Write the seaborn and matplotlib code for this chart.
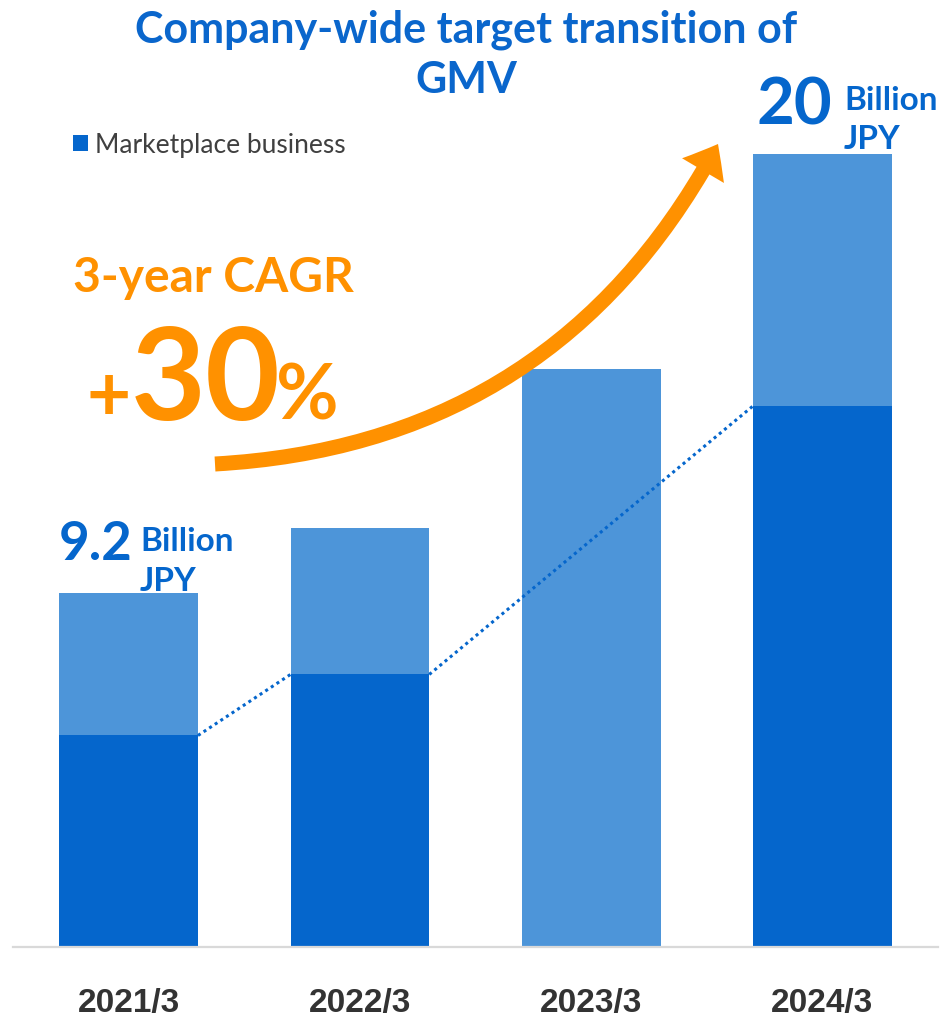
import matplotlib
matplotlib.use("Agg")
import matplotlib.pyplot as plt
from matplotlib.patches import FancyArrowPatch
import numpy as np
import pandas as pd
import seaborn as sns

# GMV targets (billion JPY)
years = ["2021/3", "2022/3", "2023/3", "2024/3"]
total_gmv = [9.2, 10.8, 14.7, 20.0]
marketplace_gmv = [5.7, 7.2, np.nan, 13.8]
legend_label = "Marketplace business"
title_lines = ["Company-wide target transition of", "GMV"]
cagr_caption = "3-year CAGR"
cagr_value = 30

DARK = "#0566CC"
LIGHT = "#4D95D9"
ORANGE = "#FF9100"
TITLE_BLUE = "#0A66CC"
GREY_TEXT = "#333333"

sns.set_theme(style="white")
plt.rcParams["font.family"] = ["Lato", "DejaVu Sans"]

W, H = 944, 1020
fig = plt.figure(figsize=(W / 100, H / 100), dpi=100)
fig.patch.set_facecolor("white")


def fx(px):
    return px / W


def fy(py):
    return 1 - py / H


ax = fig.add_axes([fx(13), fy(948), 925 / W, 888 / H])

df = pd.DataFrame({"year": years, "total": total_gmv, "market": marketplace_gmv})

sns.barplot(data=df, x="year", y="total", order=years, color=LIGHT,
            saturation=1, width=0.6, ax=ax, zorder=2, linewidth=0)
sns.barplot(data=df.dropna(subset=["market"]), x="year", y="market", order=years,
            color=DARK, saturation=1, width=0.6, ax=ax, zorder=3, linewidth=0,
            label=legend_label)

# dotted connector between marketplace segment tops
half = 0.3
idx = [i for i, v in enumerate(marketplace_gmv) if not np.isnan(v)]
for a, b in zip(idx[:-1], idx[1:]):
    ax.plot([a + half, b - half], [marketplace_gmv[a], marketplace_gmv[b]],
            color=DARK, lw=2.2, linestyle=(0, (1, 1.2)), zorder=4,
            solid_capstyle="butt", dash_capstyle="butt")

ax.set_xlim(-0.5, 3.5)
ax.set_ylim(0.5, 22.33)
ax.set_xlabel("")
ax.set_ylabel("")
ax.set_yticks([])
for side in ["top", "right", "left"]:
    ax.spines[side].set_visible(False)
ax.spines["bottom"].set_color("#D9D9D9")
ax.spines["bottom"].set_linewidth(1.6)
ax.spines["bottom"].set_zorder(5)
ax.tick_params(axis="x", length=0, pad=29)
for lab in ax.get_xticklabels():
    lab.set_family(["Liberation Sans", "DejaVu Sans"])
    lab.set_fontweight("bold")
    lab.set_fontsize(24)
    lab.set_color(GREY_TEXT)
ax.set_facecolor("white")

# value labels on first and last bars
for i, (big, yoff, xoff_big, xoff_unit, top_off) in {
    0: (38, 24.5, 3.0, 8.3, 48),
    3: (47, 21.6, 7.0, 15.5, 49.7),
}.items():
    ax.annotate(f"{total_gmv[i]:g}", xy=(i, total_gmv[i]), xytext=(xoff_big, yoff),
                textcoords="offset points", ha="right", va="baseline",
                fontsize=big, fontweight="bold", color=DARK, zorder=6)
    ax.annotate("Billion\nJPY", xy=(i, total_gmv[i]), xytext=(xoff_unit, top_off),
                textcoords="offset points", ha="left", va="top", linespacing=1.42,
                fontsize=24, fontweight="bold", color=DARK, zorder=6)

# title, one text per line
for line, base in zip(title_lines, [42, 93]):
    fig.text(fx(466), fy(base), line, ha="center", va="baseline", fontsize=31,
             fontweight="bold", color=TITLE_BLUE)

# legend
leg = ax.legend(loc="upper left", bbox_to_anchor=(fx(73), fy(133)),
                bbox_transform=fig.transFigure, frameon=False, fontsize=19,
                handlelength=0.55, handleheight=0.55, handletextpad=0.3,
                borderpad=0, borderaxespad=0)
for t in leg.get_texts():
    t.set_color("#404040")

# growth callout
fig.text(fx(73), fy(292), cagr_caption, ha="left", va="baseline", fontsize=34.5,
         fontweight="bold", color=ORANGE)
fig.text(fx(86), fy(420), "+", ha="left", va="baseline", fontsize=55,
         fontweight="bold", color=ORANGE)
fig.text(fx(131), fy(420), f"{cagr_value}", ha="left", va="baseline", fontsize=93,
         fontweight="bold", color=ORANGE)
fig.text(fx(276), fy(420), "%", ha="left", va="baseline", fontsize=55,
         fontweight="bold", color=ORANGE)

arrow = FancyArrowPatch((fx(215), fy(465)), (fx(718), fy(145)),
                        transform=fig.transFigure,
                        connectionstyle="arc3,rad=0.28",
                        arrowstyle="simple,head_width=1.75,head_length=1.1,tail_width=0.54",
                        mutation_scale=20, color=ORANGE, lw=0,
                        shrinkA=0, shrinkB=0, zorder=10)
fig.patches.append(arrow)

fig.savefig("out.png", dpi=100, facecolor="white")
